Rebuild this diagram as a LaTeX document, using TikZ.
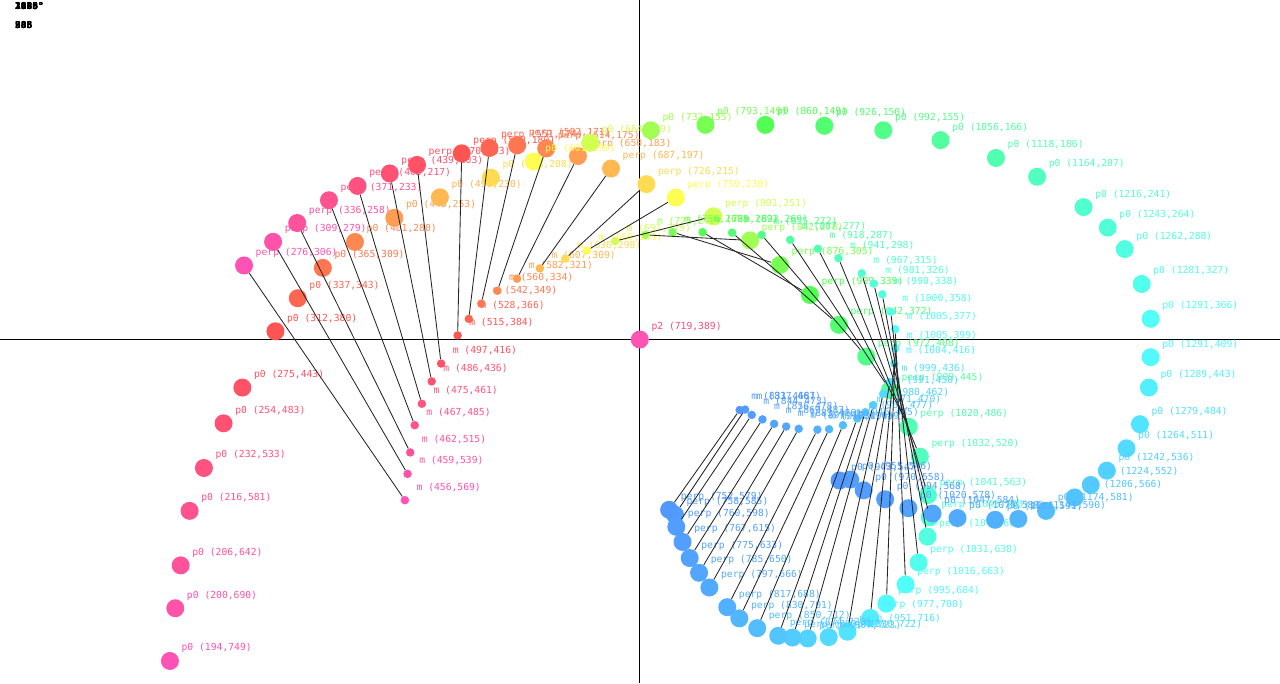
\documentclass[tikz,border=0pt]{standalone}
\usepackage{fontspec}
\setmonofont{DejaVu Sans Mono}
\usetikzlibrary{calc}

\tikzset{
  dot/.style={circle, fill=#1, draw=none, minimum size=18pt, inner sep=0pt},
  mdot/.style={circle, fill=#1, draw=none, minimum size=8.5pt, inner sep=0pt},
  tag/.style={text=#1, font=\ttfamily\fontsize{9.7}{10}\selectfont, inner sep=0pt, anchor=base west},
  link/.style={black!85, line width=0.85pt},
  readout/.style={font=\ttfamily\bfseries\fontsize{9.5}{9.5}\selectfont, inner sep=0pt, anchor=base west},
}
\definecolor{centrecol}{RGB}{255,84,180}
\definecolor{centretag}{RGB}{245,75,125}

\begin{document}
\begin{tikzpicture}[x=0.894pt, y=-0.8934pt]
  \useasboundingbox (3.92,9.18) coordinate (nw) rectangle (1435.7,773.7) coordinate (se);
  \fill[white] (nw) rectangle (se);

  % axes through p2
  \coordinate (p2) at (719.6,389.2);
  \draw[line width=0.8pt] (p2 |- nw) -- (p2 |- se);
  \draw[line width=1.6pt] (nw |- p2) -- (se |- p2);

  % readout (overdrawn)
  \foreach \v [count=\k] in {2183°,1805°,2936°,3048°,1629°}
    \node[readout] (deg\k) at (20.7,19.6) {\v};
  \foreach \v [count=\k] in {583,906,238,845}
    \node[readout] (num\k) at (20.7,40.8) {\v};

  % p0, midpoint m and perp for each sample
  \foreach \x/\y [count=\i from 0] in {194/749, 200/690, 206/642, 216/581, 232/533,
      254/483, 275/443, 312/380, 337/343, 365/309, 401/280, 445/253, 496/230,
      553/208, 601/190, 664/169, 732/155, 793/149, 860/149, 926/150, 992/155,
      1056/166, 1118/186, 1164/207, 1216/241, 1243/264, 1262/288, 1281/327,
      1291/366, 1291/409, 1289/443, 1279/484, 1264/511, 1242/536, 1224/552,
      1206/566, 1174/581, 1143/590, 1117/591, 1075/589, 1047/584, 1020/578,
      994/568, 970/558, 955/546, 943/547}
  {
    \pgfmathsetmacro\hue{mod(atan2(389.2-\y,719.6-\x)+360,360)}
    \definecolor{hsbtmp}{Hsb}{\hue,0.68,1}
    \colorlet{c\i}[rgb]{hsbtmp}
    \pgfmathsetmacro\mx{(\x+719.6)/2}
    \pgfmathsetmacro\my{(\y+389.2)/2}
    \pgfmathsetmacro\qx{\mx-(\y-389.2)/2}
    \pgfmathsetmacro\qy{\my+(\x-719.6)/2}
    \pgfmathtruncatemacro\mxl{\mx}
    \pgfmathtruncatemacro\myl{\my}
    \pgfmathtruncatemacro\qxl{\qx}
    \pgfmathtruncatemacro\qyl{\qy}
    \node[dot=c\i] (p0\i) at (\x,\y) {};
    \node[tag=c\i] (p0\i-t) at ([shift={(11.5pt,10pt)}]p0\i.center) {p0 (\x,\y)};
    \node[mdot=c\i] (m\i) at (\mx,\my) {};
    \node[tag=c\i] (m\i-t) at ([shift={(11.5pt,10pt)}]m\i.center) {m (\mxl,\myl)};
    \node[dot=c\i] (perp\i) at (\qx,\qy) {};
    \node[tag=c\i] (perp\i-t) at ([shift={(11.5pt,10pt)}]perp\i.center) {perp (\qxl,\qyl)};
  }

  % centre point
  \node[dot=centrecol] (p2dot) at (p2) {};
  \node[tag=centretag] (p2-t) at ([shift={(11.5pt,10pt)}]p2dot.center) {p2 (719,389)};

  % m -> perp
  \foreach \i in {0,...,45}
    \draw[link] (m\i) -- (perp\i);
\end{tikzpicture}
\end{document}
